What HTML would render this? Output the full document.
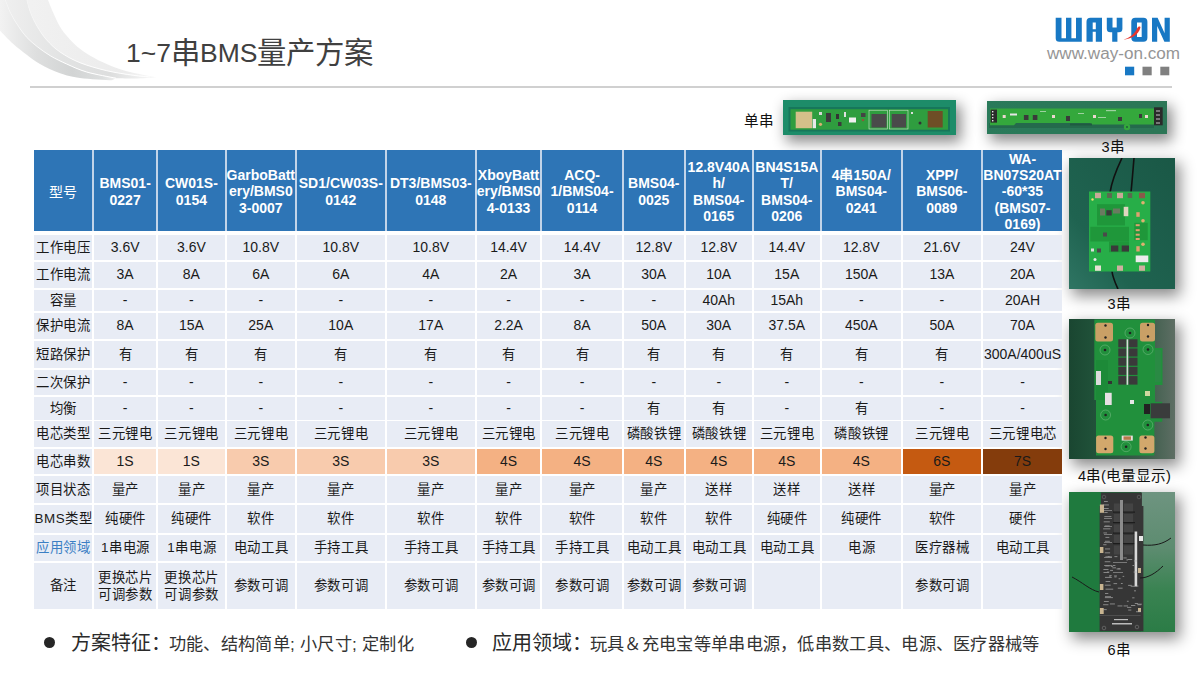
<!DOCTYPE html>
<html lang="zh-CN"><head><meta charset="utf-8">
<style>
*{margin:0;padding:0;box-sizing:border-box}
html,body{width:1200px;height:675px;overflow:hidden;background:#fff}
body{position:relative;font-family:"Liberation Sans",sans-serif;color:#000}
.c{position:absolute;display:flex;align-items:center;justify-content:center;text-align:center;overflow:visible}
.c span{display:block;white-space:nowrap}
.h{color:#fff;font-weight:bold;font-size:14px;line-height:16.3px;padding-top:2.4px}
.h0{font-weight:normal;padding-top:4px}
.b{font-size:13.4px;line-height:17.3px;color:#1a1a1a;letter-spacing:0.6px}
.b span{margin-right:-0.6px}
.lat{font-size:14px;letter-spacing:0}
.lat span{margin-right:0}
.blue{color:#3b7fc4}
.abs{position:absolute}
.title{position:absolute;left:126px;top:32.6px;font-size:26px;color:#404040;white-space:nowrap;line-height:40px}
.tl{font-size:26.5px;position:relative;top:-0.8px}
.tc{font-size:29.4px;font-weight:500}
.hr{position:absolute;left:30px;top:86px;width:1142px;height:2px;background:#d0d0d0}
.lbl{position:absolute;font-size:14.6px;color:#111;white-space:nowrap;line-height:16px}
.foot{position:absolute;top:630px;white-space:nowrap;color:#2a2a2a;line-height:26px}
.foot .big{font-size:20px}
.foot .sm{font-size:17.2px;letter-spacing:0.3px;margin-left:-2.2px;color:#333}
.ph{box-shadow:4px 6px 14px 1px rgba(0,0,0,0.46);overflow:hidden;background:#2a6a50}
.dot{position:absolute;width:11px;height:11px;border-radius:50%;background:#262626}
</style></head><body>
<svg class="abs" style="left:0;top:0" width="170" height="90" viewBox="0 0 170 90">
<defs>
<linearGradient id="b1" x1="0" y1="0" x2="120" y2="0" gradientUnits="userSpaceOnUse"><stop offset="0" stop-color="#f2f2f2"/><stop offset="0.3" stop-color="#dedfdf"/><stop offset="0.6" stop-color="#d2d4d4"/><stop offset="0.85" stop-color="#dcdede"/><stop offset="1" stop-color="#f4f4f4"/></linearGradient>
<linearGradient id="b2" x1="0" y1="0" x2="158" y2="0" gradientUnits="userSpaceOnUse"><stop offset="0" stop-color="#f0f0f0"/><stop offset="0.4" stop-color="#e2e3e3"/><stop offset="0.7" stop-color="#dddede"/><stop offset="1" stop-color="#fafafa"/></linearGradient>
<linearGradient id="b3" x1="0" y1="0" x2="158" y2="0" gradientUnits="userSpaceOnUse"><stop offset="0" stop-color="#f3f3f3"/><stop offset="0.5" stop-color="#eeeeee"/><stop offset="0.8" stop-color="#ececec"/><stop offset="1" stop-color="#fbfbfb"/></linearGradient>
<linearGradient id="wl" x1="0" y1="0" x2="0" y2="80" gradientUnits="userSpaceOnUse"><stop offset="0" stop-color="#fff" stop-opacity="0.15"/><stop offset="0.5" stop-color="#fff" stop-opacity="0.6"/><stop offset="0.8" stop-color="#fff" stop-opacity="1"/></linearGradient>
</defs>
<path d="M48.0 0.0 C48.5 1.1 49.6 4.0 50.7 6.7 C51.8 9.4 53.2 12.7 54.7 16.0 C56.2 19.3 57.8 23.1 60.0 26.7 C62.2 30.2 65.1 34.0 68.0 37.3 C70.9 40.6 73.5 43.6 77.3 46.7 C81.1 49.8 85.8 53.1 90.7 56.0 C95.6 58.9 100.7 61.5 106.7 64.0 C112.7 66.5 118.5 69.1 126.7 71.3 C134.9 73.5 151.1 76.3 156.0 77.3 L150.0 77.0 C147.2 76.7 140.5 76.3 133.3 75.3 C126.1 74.2 115.6 72.8 106.7 70.7 C97.8 68.6 87.8 65.8 80.0 62.7 C72.2 59.6 65.5 55.8 60.0 52.0 C54.5 48.2 50.5 44.2 46.7 40.0 C42.9 35.8 40.0 31.1 37.3 26.7 C34.6 22.2 32.5 17.8 30.7 13.3 C28.9 8.9 27.4 2.2 26.7 0.0 Z" fill="url(#b3)"/>
<path d="M26.7 0.0 C27.4 2.2 28.9 8.9 30.7 13.3 C32.5 17.8 34.6 22.2 37.3 26.7 C40.0 31.1 42.9 35.8 46.7 40.0 C50.5 44.2 54.5 48.2 60.0 52.0 C65.5 55.8 72.2 59.6 80.0 62.7 C87.8 65.8 97.8 68.6 106.7 70.7 C115.6 72.8 126.1 74.2 133.3 75.3 C140.5 76.3 147.2 76.7 150.0 77.0 L150.0 77.0 C151.0 77.0 155.0 77.2 156.0 77.3 L156.0 77.4 C152.5 77.6 141.7 78.3 135.0 78.4 C128.3 78.5 119.2 78.2 116.0 78.2 L116.0 78.2 C111.1 77.2 94.9 74.4 86.7 72.0 C78.5 69.6 72.7 66.7 66.7 64.0 C60.7 61.3 55.6 58.9 50.7 56.0 C45.8 53.1 41.3 49.8 37.3 46.7 C33.3 43.6 29.8 40.6 26.7 37.3 C23.6 34.0 21.4 30.7 18.7 26.7 C16.0 22.7 12.9 17.8 10.7 13.3 C8.5 8.9 6.2 2.2 5.3 0.0 Z" fill="url(#b2)"/>
<path d="M5.3 0.0 C6.2 2.2 8.5 8.9 10.7 13.3 C12.9 17.8 16.0 22.7 18.7 26.7 C21.4 30.7 23.6 34.0 26.7 37.3 C29.8 40.6 33.3 43.6 37.3 46.7 C41.3 49.8 45.8 53.1 50.7 56.0 C55.6 58.9 60.7 61.3 66.7 64.0 C72.7 66.7 78.5 69.6 86.7 72.0 C94.9 74.4 111.1 77.2 116.0 78.2 L112.0 80.3 C106.7 79.9 88.7 79.2 80.0 78.0 C71.3 76.8 66.7 75.6 60.0 73.3 C53.3 71.0 45.5 67.1 40.0 64.0 C34.5 60.9 31.1 58.0 26.7 54.7 C22.2 51.4 17.8 48.0 13.3 44.0 C8.9 40.0 2.2 32.9 0.0 30.7 L0 0 Z" fill="url(#b1)"/>
<path d="M26.7 0.0 C27.4 2.2 28.9 8.9 30.7 13.3 C32.5 17.8 34.6 22.2 37.3 26.7 C40.0 31.1 42.9 35.8 46.7 40.0 C50.5 44.2 54.5 48.2 60.0 52.0 C65.5 55.8 72.2 59.6 80.0 62.7 C87.8 65.8 97.8 68.6 106.7 70.7 C115.6 72.8 126.1 74.2 133.3 75.3 C140.5 76.3 147.2 76.7 150.0 77.0" stroke="url(#wl)" stroke-width="0.9" fill="none"/>
<path d="M5.3 0.0 C6.2 2.2 8.5 8.9 10.7 13.3 C12.9 17.8 16.0 22.7 18.7 26.7 C21.4 30.7 23.6 34.0 26.7 37.3 C29.8 40.6 33.3 43.6 37.3 46.7 C41.3 49.8 45.8 53.1 50.7 56.0 C55.6 58.9 60.7 61.3 66.7 64.0 C72.7 66.7 78.5 69.6 86.7 72.0 C94.9 74.4 111.1 77.2 116.0 78.2" stroke="url(#wl)" stroke-width="1" fill="none"/>
</svg>
<svg class="abs" style="left:1040px;top:10px" width="150" height="72" viewBox="1040 10 150 72">
<g fill="#1878c4">
<path d="M1055.7 17.7h5.8v20.6h4.5v-20.6h5.4v20.6h4.6v-20.6h5.8v24h-22.6q-3.5 0 -3.5 -3.5z"/>
<path d="M1090.5 17.7h11.5v24h-6.2v-10h-3.1v10h-6.2v-20q0 -4 4 -4zM1092.7 22.4v6.8h3.1v-6.8z" fill-rule="evenodd"/>
<path d="M1106.8 17.7h5.7v9.9h4.2v-9.9h5.7v11q0 3.6 -3.6 3.6h-1.4v9.4h-5.2v-9.4h-1.8q-3.6 0 -3.6 -3.6z"/>
<path d="M1135.3 17.7h8.1q4 0 4 4v16q0 4 -4 4h-8.1q-4 0 -4 -4v-16q0 -4 4 -4zM1137 22.4v14.6h4.7v-14.6z" fill-rule="evenodd"/>
<path d="M1152 17.7h5.6l7 15.5v-15.5h5.2v24h-5.4l-7.2 -15.8v15.8h-5.2z"/>
</g>
<path d="M1123 39.6C1129 38.6 1134.5 34.5 1137.6 27.6C1138.3 26.2 1140.8 25.8 1140.4 27.8C1138.5 34.8 1131.5 39.4 1123 39.6Z" fill="#e8362d"/>
<text x="1047" y="58.6" font-family="Liberation Sans" font-size="16" fill="#959595" textLength="133" lengthAdjust="spacingAndGlyphs">www.way-on.com</text>
<rect x="1125" y="66.7" width="9.2" height="8.6" fill="#1878c4"/>
<rect x="1142.5" y="66.7" width="9.2" height="8.6" fill="#808080"/>
<rect x="1160.3" y="66.7" width="9" height="8.6" fill="#808080"/>
</svg>
<div class="abs ph" style="left:783px;top:100px;width:173px;height:35px"><svg width="173" height="35" viewBox="783 100 173 35" style="display:block;filter:blur(0.35px)">
<rect x="783" y="100" width="173" height="35" fill="#1d8c69"/>
<rect x="788.5" y="107" width="161.5" height="24.5" fill="#17765a"/>
<rect x="790.5" y="109.2" width="157.5" height="20.5" fill="#2f9d3f"/>
<rect x="795.7" y="111.7" width="16.5" height="16.5" fill="#d4c08a"/>
<rect x="812.7" y="119" width="3.3" height="9.2" fill="#e8e8e8"/>
<rect x="819" y="112" width="3" height="3" fill="#d8d8d8"/>
<rect x="826" y="113" width="5" height="9" fill="#3b3b3b"/>
<circle cx="820.5" cy="124.3" r="1.6" fill="#d9b070"/>
<rect x="836" y="114" width="3" height="5" fill="#333"/>
<rect x="838" y="122" width="3.5" height="4" fill="#3a3a3a"/>
<rect x="844" y="112" width="2" height="5" fill="#e0e0e0"/>
<rect x="849" y="117.5" width="7" height="5" fill="#f0f0f0"/>
<rect x="861" y="113" width="4.5" height="4" fill="#444"/>
<circle cx="863" cy="120" r="1.3" fill="#8a5a3a"/>
<rect x="869" y="110.2" width="18.5" height="18.8" fill="none" stroke="#cfe6cf" stroke-width="0.6"/>
<rect x="871.5" y="114" width="15" height="13.5" fill="#4a4a4a"/>
<rect x="889.5" y="110.2" width="18.5" height="18.8" fill="none" stroke="#cfe6cf" stroke-width="0.6"/>
<rect x="891.7" y="114" width="14.3" height="13.5" fill="#4a4a4a"/>
<rect x="911" y="112" width="2" height="2" fill="#ddd"/>
<circle cx="920" cy="123" r="1.5" fill="#333"/>
<rect x="927.7" y="111" width="15" height="16.5" fill="#6e4e26"/>
</svg></div>
<div class="abs ph" style="left:987px;top:101px;width:180px;height:33px"><svg width="180" height="33" viewBox="987 101 180 33" style="display:block;filter:blur(0.35px)">
<defs><linearGradient id="g2" x1="0" y1="0" x2="1" y2="0"><stop offset="0" stop-color="#2a7a5a"/><stop offset="1" stop-color="#2c7656"/></linearGradient></defs>
<rect x="987" y="101" width="180" height="33" fill="url(#g2)"/>
<rect x="989" y="123" width="165" height="5" fill="#246a4c"/>
<path d="M990 108.5H1154V124.5H1092L1090 123H1016L1014 125.3H990Z" fill="#34a83c"/>
<circle cx="1127" cy="127" r="3.2" fill="#34a83c"/>
<circle cx="1127" cy="127" r="0.9" fill="#1a5a3a"/>
<rect x="1070" y="123.5" width="22" height="2" fill="#1f5a40"/>
<rect x="990.6" y="109.6" width="6.4" height="13" fill="#2a2a2a"/>
<g fill="#e6e6e6"><rect x="992" y="111" width="1.4" height="1.4"/><rect x="992" y="114" width="1.4" height="1.4"/><rect x="992" y="117" width="1.4" height="1.4"/><rect x="992" y="120" width="1.4" height="1.4"/></g>
<g fill="#ecd6d0"><rect x="1002.7" y="115" width="3" height="3"/><rect x="1052" y="115" width="3" height="3"/><rect x="1093" y="115" width="3" height="3"/><rect x="1145" y="115" width="3" height="3"/></g>
<rect x="1010" y="113.5" width="7" height="2" fill="#e6e6e6"/>
<g fill="#3a3a3a"><rect x="1023.9" y="115" width="4.6" height="5"/><rect x="1032.8" y="115" width="4.6" height="5"/><rect x="1066" y="116" width="4" height="5"/><rect x="1118" y="117" width="4" height="4"/><rect x="1139" y="114" width="3" height="4"/></g>
<g fill="#b8dcb8" opacity="0.8"><rect x="1106" y="110" width="10" height="1.2"/><rect x="1098" y="117" width="8" height="1"/><rect x="1040" y="111" width="6" height="1"/><rect x="1078" y="113" width="6" height="1"/></g>
<rect x="1154" y="107.3" width="8.7" height="18" fill="#2a2a2a"/>
<g fill="#777"><rect x="1156" y="110" width="4" height="2"/><rect x="1156" y="114" width="4" height="2"/><rect x="1156" y="118" width="4" height="2"/><rect x="1156" y="122" width="4" height="2"/></g>
</svg></div>
<div class="abs ph" style="left:1069px;top:157.5px;width:106px;height:131.0px"><svg width="106" height="131.0" viewBox="1069 157.5 106 131.0" style="display:block;filter:blur(0.35px)">
<defs><linearGradient id="g3" x1="0" y1="1" x2="1" y2="0"><stop offset="0" stop-color="#2f7563"/><stop offset="0.3" stop-color="#1f6350"/><stop offset="1" stop-color="#1a5846"/></linearGradient></defs>
<rect x="1069" y="157.5" width="106" height="131" fill="url(#g3)"/>
<path d="M1122 157.5C1116 170 1112 180 1110 192M1134 157.5C1133 170 1132 182 1131 192M1112 271C1113 278 1116 284 1118 288.5" stroke="#111" stroke-width="1.6" fill="none"/>
<rect x="1089" y="191" width="61.3" height="80" fill="#27ae48"/>
<rect x="1097" y="203.7" width="28" height="21.3" fill="#1f973a"/>
<rect x="1090.3" y="226.3" width="38.7" height="14.7" fill="#1f973a"/>
<rect x="1109" y="241" width="20" height="10.7" fill="#1f973a"/>
<rect x="1134.3" y="222.3" width="13.4" height="17.4" fill="#1f973a"/>
<rect x="1095" y="192.3" width="6" height="5.4" fill="#c9a898"/>
<rect x="1107" y="192.5" width="5" height="5" fill="#5a6a50"/>
<rect x="1117" y="192.3" width="6" height="5.4" fill="#c9a898"/>
<rect x="1127.7" y="192.5" width="4.5" height="5" fill="#5a6a50"/>
<rect x="1139" y="192.3" width="6" height="5.4" fill="#8a5a4a"/>
<rect x="1095" y="265" width="6" height="5.3" fill="#e8e0d4"/>
<rect x="1117" y="265" width="6" height="5.3" fill="#d0b0a0"/>
<rect x="1139" y="265" width="6" height="5.3" fill="#d0b0a0"/>
<rect x="1111" y="245" width="7.3" height="6" fill="#3a3a3a"/>
<rect x="1121.7" y="245" width="7.3" height="6" fill="#3a3a3a"/>
<rect x="1106.3" y="209.7" width="5.4" height="5.3" fill="#3a3a3a"/>
<rect x="1100" y="208" width="5" height="7" fill="#6a7a60"/>
<rect x="1113" y="208" width="7" height="5" fill="#6a7a60"/>
<rect x="1103" y="232" width="4" height="4" fill="#4a4a4a"/>
<rect x="1123.7" y="206.3" width="4.6" height="9.4" fill="#e0d6c0"/>
<rect x="1135.7" y="223.7" width="4" height="2" fill="#e0a070"/>
<rect x="1135.7" y="228.7" width="4" height="2" fill="#e0a070"/>
<rect x="1135.7" y="233.2" width="4" height="2" fill="#e0a070"/>
<rect x="1135.7" y="237.5" width="4" height="2" fill="#e0a070"/>
<rect x="1136.3" y="211.7" width="3.4" height="4.6" fill="#e0a070"/>
<rect x="1136.3" y="245.7" width="3.4" height="5.3" fill="#e0a070"/>
<circle cx="1143" cy="202.3" r="1.8" fill="#e0b070"/>
<circle cx="1143" cy="220.3" r="1.8" fill="#e0b070"/>
<circle cx="1143" cy="243.7" r="1.8" fill="#e0b070"/>
<circle cx="1092.5" cy="199" r="1.2" fill="#e8e070"/>
<circle cx="1095" cy="259" r="1.5" fill="#e8e8e8"/>
<rect x="1091" y="248" width="3" height="3" fill="#ddd"/>
<rect x="1097" y="248" width="4" height="4" fill="#4a4a4a"/>
<rect x="1135.7" y="255" width="12.6" height="6.7" fill="#ececec"/>
</svg></div>
<div class="abs ph" style="left:1069px;top:319px;width:106px;height:140px"><svg width="106" height="140" viewBox="1069 319 106 140" style="display:block;filter:blur(0.35px)">
<defs><linearGradient id="g4" x1="0" y1="0" x2="1" y2="0"><stop offset="0" stop-color="#1a4631"/><stop offset="0.2" stop-color="#1f5038"/><stop offset="0.75" stop-color="#3e5e4c"/><stop offset="1" stop-color="#5e6e64"/></linearGradient></defs>
<rect x="1069" y="319" width="106" height="140" fill="url(#g4)"/>
<path d="M1094.3 319.6H1155V348H1162.5V385H1155V401.7H1162.2V421.7H1154.4V455.6H1096V400H1094.3Z" fill="#21903c"/>
<rect x="1096" y="360" width="12" height="40" fill="#1d8a38"/>
<rect x="1095.3" y="322.8" width="17.7" height="18.7" rx="2.5" fill="#c9a066"/>
<rect x="1140" y="322.8" width="15" height="18.7" rx="2.5" fill="#c9a066"/>
<rect x="1096.1" y="435.6" width="17.2" height="17.7" rx="2.5" fill="#d2a86c"/>
<rect x="1139.4" y="435.6" width="15" height="17.7" rx="2.5" fill="#d2a86c"/>
<g fill="#222"><circle cx="1105.5" cy="325.5" r="1.2"/><circle cx="1105.5" cy="337.5" r="1.2"/><circle cx="1148" cy="325" r="1.2"/><circle cx="1148" cy="336.5" r="1.2"/>
<circle cx="1105.5" cy="438" r="1.2"/><circle cx="1105.5" cy="449" r="1.2"/><circle cx="1145.5" cy="437.5" r="1.2"/><circle cx="1145.5" cy="448.5" r="1.2"/>
<circle cx="1130" cy="333" r="1.3"/><circle cx="1105" cy="350" r="1.3"/><circle cx="1148" cy="349.5" r="1.3"/><circle cx="1105.6" cy="415" r="1.3"/><circle cx="1147.8" cy="425" r="1.3"/><circle cx="1126.1" cy="446.7" r="1.3"/></g>
<g fill="none" stroke="#7fc08a" stroke-width="0.5"><circle cx="1130" cy="333" r="5"/><circle cx="1105" cy="350" r="5"/><circle cx="1148" cy="349.5" r="5"/><circle cx="1105.6" cy="415" r="5"/><circle cx="1147.8" cy="425" r="5"/><circle cx="1126.1" cy="446.7" r="5"/></g>
<g fill="#3a3a3a">
<rect x="1118.3" y="339.3" width="8" height="8"/><rect x="1128.5" y="339.3" width="9" height="8"/>
<rect x="1118.3" y="348.5" width="8" height="8"/><rect x="1128.5" y="348.5" width="9" height="8"/>
<rect x="1118.3" y="357.7" width="8" height="8"/><rect x="1128.5" y="357.7" width="9" height="8"/>
<rect x="1118.3" y="366.9" width="8" height="8"/><rect x="1128.5" y="366.9" width="9" height="8"/>
<rect x="1118.3" y="376.1" width="8" height="8.5"/><rect x="1128.5" y="376.1" width="9" height="8.5"/>
</g>
<rect x="1126.6" y="339.3" width="1.6" height="45.5" fill="#d8d8d8"/>
<rect x="1155" y="350" width="6" height="32" fill="#2a8a44"/>
<rect x="1096" y="371" width="5" height="14" fill="#dcdcdc"/>
<rect x="1105" y="392.8" width="6.7" height="12.2" fill="#e8e0e4"/>
<rect x="1108" y="381" width="4" height="3" fill="#333"/>
<rect x="1130" y="400" width="4" height="4" fill="#e8e8e8"/>
<rect x="1145" y="391" width="5" height="5" fill="#cfd8a0"/>
<rect x="1150.6" y="403.3" width="19.4" height="15" fill="#3a3c3c"/>
<rect x="1144" y="404" width="6" height="10" fill="#222"/>
<rect x="1121.7" y="435.6" width="11.1" height="5" fill="#e6e0dc"/>
<rect x="1123.5" y="436.4" width="7.5" height="3.4" fill="#b8784a"/>
</svg></div>
<div class="abs ph" style="left:1069px;top:492px;width:106px;height:140px"><svg width="106" height="140" viewBox="1069 492 106 140" style="display:block;filter:blur(0.35px)">
<defs><linearGradient id="g5b" x1="0" y1="0" x2="0" y2="1"><stop offset="0" stop-color="#6e9480"/><stop offset="0.4" stop-color="#5d8c70"/><stop offset="0.7" stop-color="#3a8352"/><stop offset="1" stop-color="#2b7c46"/></linearGradient></defs>
<rect x="1069" y="492" width="106" height="140" fill="#1f7a3e"/>
<rect x="1141" y="492" width="34" height="140" fill="url(#g5b)"/>
<path d="M1100.9 492.6H1141.9V506H1143.4V631.2H1099.6V506H1100.9Z" fill="#363636"/>
<rect x="1099.6" y="615" width="41" height="0.8" fill="#555"/>
<path d="M1143 545C1155 546 1163 544 1171 538M1140 578C1148 578 1156 573 1163 566M1072 577C1082 582 1090 590 1099 592" stroke="#1a1a1a" stroke-width="1" fill="none"/>
<g fill="#c8b490"><rect x="1099.9" y="504.5" width="4.1" height="8.3"/><rect x="1099.9" y="547" width="3.5" height="6"/><rect x="1099.9" y="584" width="3.5" height="6"/><rect x="1099.9" y="608" width="3.8" height="6"/><rect x="1138" y="568" width="3" height="5"/><rect x="1138" y="608" width="3" height="4"/></g>
<g fill="#444"><rect x="1113.9" y="503.5" width="6" height="9"/><rect x="1124" y="503.5" width="9" height="9"/><rect x="1113.9" y="514" width="6" height="9"/><rect x="1124" y="514" width="9" height="9"/><rect x="1113.9" y="524.5" width="6" height="9"/><rect x="1124" y="524.5" width="9" height="9"/><rect x="1113.9" y="535" width="6" height="9"/><rect x="1124" y="535" width="9" height="9"/><rect x="1113.9" y="545.5" width="6" height="9"/><rect x="1124" y="545.5" width="9" height="9"/></g>
<g fill="#1c1c1c"><rect x="1113" y="511.5" width="22" height="1.2"/><rect x="1113" y="522" width="22" height="1.2"/><rect x="1113" y="532.5" width="22" height="1.2"/><rect x="1113" y="543" width="22" height="1.2"/></g>
<rect x="1120" y="500" width="3" height="60" fill="#8c8c8c"/>
<rect x="1134.6" y="531.5" width="2.6" height="55" fill="#d8d8d8"/>
<rect x="1139" y="536" width="4" height="5" fill="#e8e8e8"/>
<g fill="#8a8a8a" opacity="0.8"><rect x="1104" y="510" width="8" height="1"/><rect x="1104" y="518" width="8" height="1"/><rect x="1104" y="526" width="8" height="1"/><rect x="1104" y="534" width="8" height="1"/><rect x="1104" y="542" width="8" height="1"/><rect x="1104" y="557" width="8" height="1"/><rect x="1104" y="565" width="8" height="1"/><rect x="1113" y="562" width="14" height="1"/><rect x="1113" y="572" width="10" height="1"/><rect x="1105" y="596" width="6" height="1"/></g>
<g fill="#b0b0b0" opacity="0.75"><rect x="1104.0" y="501.0" width="3.8" height="0.9"/><rect x="1103.2" y="504.5" width="5.7" height="0.9"/><rect x="1103.2" y="508.1" width="5.5" height="0.9"/><rect x="1104.3" y="512.1" width="3.3" height="0.9"/><rect x="1104.3" y="516.2" width="7.1" height="0.9"/><rect x="1103.7" y="521.4" width="6.1" height="0.9"/><rect x="1104.7" y="525.5" width="5.0" height="0.9"/><rect x="1103.1" y="528.4" width="7.3" height="0.9"/><rect x="1103.4" y="532.5" width="3.6" height="0.9"/><rect x="1105.4" y="536.9" width="3.9" height="0.9"/><rect x="1104.9" y="540.8" width="4.9" height="0.9"/><rect x="1103.2" y="544.3" width="3.3" height="0.9"/><rect x="1105.0" y="548.5" width="5.1" height="0.9"/><rect x="1104.8" y="552.4" width="5.3" height="0.9"/><rect x="1105.4" y="556.4" width="6.5" height="0.9"/><rect x="1104.7" y="561.3" width="5.6" height="0.9"/><rect x="1105.2" y="565.5" width="4.4" height="0.9"/><rect x="1103.4" y="569.1" width="5.1" height="0.9"/><rect x="1103.5" y="572.1" width="5.4" height="0.9"/><rect x="1105.0" y="576.9" width="6.8" height="0.9"/><rect x="1105.6" y="581.0" width="4.6" height="0.9"/><rect x="1104.8" y="584.7" width="5.9" height="0.9"/><rect x="1105.5" y="588.7" width="7.7" height="0.9"/><rect x="1105.0" y="593.1" width="3.3" height="0.9"/><rect x="1104.9" y="597.2" width="8.0" height="0.9"/><rect x="1103.9" y="601.0" width="4.9" height="0.9"/><rect x="1103.1" y="604.3" width="5.3" height="0.9"/><rect x="1103.4" y="609.2" width="3.3" height="0.9"/><rect x="1110.1" y="569.9" width="2.9" height="0.9"/><rect x="1133.9" y="560.5" width="3.1" height="0.9"/><rect x="1123.6" y="605.5" width="4.4" height="0.9"/><rect x="1133.6" y="571.6" width="3.0" height="0.9"/><rect x="1117.5" y="605.5" width="4.9" height="0.9"/><rect x="1110.8" y="565.9" width="2.3" height="0.9"/><rect x="1113.5" y="583.2" width="3.6" height="0.9"/><rect x="1114.4" y="556.2" width="3.0" height="0.9"/><rect x="1117.8" y="587.7" width="4.8" height="0.9"/><rect x="1128.1" y="584.9" width="3.7" height="0.9"/><rect x="1127.6" y="559.0" width="4.6" height="0.9"/><rect x="1131.0" y="605.0" width="4.3" height="0.9"/><rect x="1118.6" y="578.3" width="1.9" height="0.9"/><rect x="1126.3" y="559.5" width="1.7" height="0.9"/><rect x="1112.7" y="565.1" width="2.7" height="0.9"/><rect x="1107.7" y="556.0" width="2.0" height="0.9"/><rect x="1109.2" y="576.4" width="1.6" height="0.9"/><rect x="1134.0" y="590.4" width="2.0" height="0.9"/><rect x="1114.1" y="575.5" width="2.8" height="0.9"/><rect x="1109.9" y="603.5" width="5.0" height="0.9"/><rect x="1120.9" y="583.1" width="1.8" height="0.9"/><rect x="1109.3" y="575.2" width="2.4" height="0.9"/><rect x="1132.5" y="565.0" width="1.6" height="0.9"/><rect x="1136.4" y="585.6" width="2.0" height="0.9"/><rect x="1123.4" y="557.5" width="3.3" height="0.9"/><rect x="1137.3" y="604.3" width="3.9" height="0.9"/><rect x="1114.4" y="576.5" width="2.1" height="0.9"/><rect x="1130.7" y="585.8" width="4.2" height="0.9"/><rect x="1116.5" y="568.5" width="4.3" height="0.9"/><rect x="1137.5" y="603.7" width="4.3" height="0.9"/><rect x="1132.2" y="597.4" width="2.3" height="0.9"/><rect x="1122.6" y="575.9" width="1.6" height="0.9"/><rect x="1106.9" y="571.6" width="2.4" height="0.9"/><rect x="1128.2" y="609.6" width="3.1" height="0.9"/><rect x="1136.0" y="611.3" width="4.8" height="0.9"/><rect x="1117.7" y="568.3" width="2.3" height="0.9"/><rect x="1112.3" y="567.4" width="3.7" height="0.9"/><rect x="1134.8" y="603.1" width="3.2" height="0.9"/><rect x="1126.9" y="600.8" width="1.8" height="0.9"/><rect x="1127.1" y="606.9" width="4.2" height="0.9"/></g>
<g fill="#bbb"><rect x="1112" y="623" width="20" height="1.5"/><rect x="1114" y="619" width="14" height="1.2"/></g>
<circle cx="1104" cy="628" r="1.8" fill="none" stroke="#888" stroke-width="0.5"/>
<circle cx="1137" cy="627" r="1.8" fill="none" stroke="#888" stroke-width="0.5"/>
<circle cx="1104" cy="497" r="1.8" fill="none" stroke="#777" stroke-width="0.5"/>
<circle cx="1139" cy="497" r="1.8" fill="none" stroke="#777" stroke-width="0.5"/>
</svg></div>
<div class="title"><span class="tl">1~7</span><span class="tc">串</span><span class="tl">BMS</span><span class="tc">量产方案</span></div>
<div class="hr"></div>
<div class="abs" style="left:34px;top:150px;width:1028px;height:80.8px;background:#c2d4e9"></div>
<div class="c h h0" style="left:34.0px;top:150.0px;width:58.3px;height:80.8px;background:#2e75b6"><span>型号</span></div><div class="c b" style="left:34.0px;top:235.0px;width:58.3px;height:24.9px;background:#e8ecf5"><span>工作电压</span></div><div class="c b" style="left:34.0px;top:261.6px;width:58.3px;height:26.4px;background:#e8ecf5"><span>工作电流</span></div><div class="c b" style="left:34.0px;top:289.6px;width:58.3px;height:21.4px;background:#e8ecf5"><span>容量</span></div><div class="c b" style="left:34.0px;top:312.8px;width:58.3px;height:26.3px;background:#e8ecf5"><span>保护电流</span></div><div class="c b" style="left:34.0px;top:340.8px;width:58.3px;height:27.2px;background:#e8ecf5"><span>短路保护</span></div><div class="c b" style="left:34.0px;top:369.6px;width:58.3px;height:25.7px;background:#e8ecf5"><span>二次保护</span></div><div class="c b" style="left:34.0px;top:397.1px;width:58.3px;height:22.5px;background:#e8ecf5"><span>均衡</span></div><div class="c b" style="left:34.0px;top:421.2px;width:58.3px;height:25.8px;background:#e8ecf5"><span>电芯类型</span></div><div class="c b" style="left:34.0px;top:448.8px;width:58.3px;height:25.4px;background:#e8ecf5"><span>电芯串数</span></div><div class="c b" style="left:34.0px;top:475.9px;width:58.3px;height:27.2px;background:#e8ecf5"><span>项目状态</span></div><div class="c b" style="left:34.0px;top:504.8px;width:58.3px;height:28.7px;background:#e8ecf5"><span>BMS类型</span></div><div class="c b blue" style="left:34.0px;top:535.1px;width:58.3px;height:26.1px;background:#e8ecf5"><span>应用领域</span></div><div class="c b" style="left:34.0px;top:563.0px;width:58.3px;height:46.0px;background:#e8ecf5"><span>备注</span></div><div class="c h" style="left:94.3px;top:150.0px;width:61.7px;height:80.8px;background:#2e75b6"><span>BMS01-<br>0227</span></div><div class="c b lat" style="left:94.3px;top:235.0px;width:61.7px;height:24.9px;background:#e8ecf5"><span>3.6V</span></div><div class="c b lat" style="left:94.3px;top:261.6px;width:61.7px;height:26.4px;background:#e8ecf5"><span>3A</span></div><div class="c b lat" style="left:94.3px;top:289.6px;width:61.7px;height:21.4px;background:#e8ecf5"><span>-</span></div><div class="c b lat" style="left:94.3px;top:312.8px;width:61.7px;height:26.3px;background:#e8ecf5"><span>8A</span></div><div class="c b" style="left:94.3px;top:340.8px;width:61.7px;height:27.2px;background:#e8ecf5"><span>有</span></div><div class="c b lat" style="left:94.3px;top:369.6px;width:61.7px;height:25.7px;background:#e8ecf5"><span>-</span></div><div class="c b lat" style="left:94.3px;top:397.1px;width:61.7px;height:22.5px;background:#e8ecf5"><span>-</span></div><div class="c b" style="left:94.3px;top:421.2px;width:61.7px;height:25.8px;background:#e8ecf5"><span>三元锂电</span></div><div class="c b lat" style="left:94.3px;top:448.8px;width:61.7px;height:25.4px;background:#fbe5d6"><span>1S</span></div><div class="c b" style="left:94.3px;top:475.9px;width:61.7px;height:27.2px;background:#e8ecf5"><span>量产</span></div><div class="c b" style="left:94.3px;top:504.8px;width:61.7px;height:28.7px;background:#e8ecf5"><span>纯硬件</span></div><div class="c b" style="left:94.3px;top:535.1px;width:61.7px;height:26.1px;background:#e8ecf5"><span>1串电源</span></div><div class="c b" style="left:94.3px;top:563.0px;width:61.7px;height:46.0px;background:#e8ecf5"><span>更换芯片<br>可调参数</span></div><div class="c h" style="left:158.0px;top:150.0px;width:66.8px;height:80.8px;background:#2e75b6"><span>CW01S-<br>0154</span></div><div class="c b lat" style="left:158.0px;top:235.0px;width:66.8px;height:24.9px;background:#e8ecf5"><span>3.6V</span></div><div class="c b lat" style="left:158.0px;top:261.6px;width:66.8px;height:26.4px;background:#e8ecf5"><span>8A</span></div><div class="c b lat" style="left:158.0px;top:289.6px;width:66.8px;height:21.4px;background:#e8ecf5"><span>-</span></div><div class="c b lat" style="left:158.0px;top:312.8px;width:66.8px;height:26.3px;background:#e8ecf5"><span>15A</span></div><div class="c b" style="left:158.0px;top:340.8px;width:66.8px;height:27.2px;background:#e8ecf5"><span>有</span></div><div class="c b lat" style="left:158.0px;top:369.6px;width:66.8px;height:25.7px;background:#e8ecf5"><span>-</span></div><div class="c b lat" style="left:158.0px;top:397.1px;width:66.8px;height:22.5px;background:#e8ecf5"><span>-</span></div><div class="c b" style="left:158.0px;top:421.2px;width:66.8px;height:25.8px;background:#e8ecf5"><span>三元锂电</span></div><div class="c b lat" style="left:158.0px;top:448.8px;width:66.8px;height:25.4px;background:#fbe5d6"><span>1S</span></div><div class="c b" style="left:158.0px;top:475.9px;width:66.8px;height:27.2px;background:#e8ecf5"><span>量产</span></div><div class="c b" style="left:158.0px;top:504.8px;width:66.8px;height:28.7px;background:#e8ecf5"><span>纯硬件</span></div><div class="c b" style="left:158.0px;top:535.1px;width:66.8px;height:26.1px;background:#e8ecf5"><span>1串电源</span></div><div class="c b" style="left:158.0px;top:563.0px;width:66.8px;height:46.0px;background:#e8ecf5"><span>更换芯片<br>可调参数</span></div><div class="c h" style="left:226.8px;top:150.0px;width:68.0px;height:80.8px;background:#2e75b6"><span>GarboBatt<br>ery/BMS0<br>3-0007</span></div><div class="c b lat" style="left:226.8px;top:235.0px;width:68.0px;height:24.9px;background:#e8ecf5"><span>10.8V</span></div><div class="c b lat" style="left:226.8px;top:261.6px;width:68.0px;height:26.4px;background:#e8ecf5"><span>6A</span></div><div class="c b lat" style="left:226.8px;top:289.6px;width:68.0px;height:21.4px;background:#e8ecf5"><span>-</span></div><div class="c b lat" style="left:226.8px;top:312.8px;width:68.0px;height:26.3px;background:#e8ecf5"><span>25A</span></div><div class="c b" style="left:226.8px;top:340.8px;width:68.0px;height:27.2px;background:#e8ecf5"><span>有</span></div><div class="c b lat" style="left:226.8px;top:369.6px;width:68.0px;height:25.7px;background:#e8ecf5"><span>-</span></div><div class="c b lat" style="left:226.8px;top:397.1px;width:68.0px;height:22.5px;background:#e8ecf5"><span>-</span></div><div class="c b" style="left:226.8px;top:421.2px;width:68.0px;height:25.8px;background:#e8ecf5"><span>三元锂电</span></div><div class="c b lat" style="left:226.8px;top:448.8px;width:68.0px;height:25.4px;background:#f8cbad"><span>3S</span></div><div class="c b" style="left:226.8px;top:475.9px;width:68.0px;height:27.2px;background:#e8ecf5"><span>量产</span></div><div class="c b" style="left:226.8px;top:504.8px;width:68.0px;height:28.7px;background:#e8ecf5"><span>软件</span></div><div class="c b" style="left:226.8px;top:535.1px;width:68.0px;height:26.1px;background:#e8ecf5"><span>电动工具</span></div><div class="c b" style="left:226.8px;top:563.0px;width:68.0px;height:46.0px;background:#e8ecf5"><span>参数可调</span></div><div class="c h" style="left:296.8px;top:150.0px;width:88.0px;height:80.8px;background:#2e75b6"><span>SD1/CW03S-<br>0142</span></div><div class="c b lat" style="left:296.8px;top:235.0px;width:88.0px;height:24.9px;background:#e8ecf5"><span>10.8V</span></div><div class="c b lat" style="left:296.8px;top:261.6px;width:88.0px;height:26.4px;background:#e8ecf5"><span>6A</span></div><div class="c b lat" style="left:296.8px;top:289.6px;width:88.0px;height:21.4px;background:#e8ecf5"><span>-</span></div><div class="c b lat" style="left:296.8px;top:312.8px;width:88.0px;height:26.3px;background:#e8ecf5"><span>10A</span></div><div class="c b" style="left:296.8px;top:340.8px;width:88.0px;height:27.2px;background:#e8ecf5"><span>有</span></div><div class="c b lat" style="left:296.8px;top:369.6px;width:88.0px;height:25.7px;background:#e8ecf5"><span>-</span></div><div class="c b lat" style="left:296.8px;top:397.1px;width:88.0px;height:22.5px;background:#e8ecf5"><span>-</span></div><div class="c b" style="left:296.8px;top:421.2px;width:88.0px;height:25.8px;background:#e8ecf5"><span>三元锂电</span></div><div class="c b lat" style="left:296.8px;top:448.8px;width:88.0px;height:25.4px;background:#f8cbad"><span>3S</span></div><div class="c b" style="left:296.8px;top:475.9px;width:88.0px;height:27.2px;background:#e8ecf5"><span>量产</span></div><div class="c b" style="left:296.8px;top:504.8px;width:88.0px;height:28.7px;background:#e8ecf5"><span>软件</span></div><div class="c b" style="left:296.8px;top:535.1px;width:88.0px;height:26.1px;background:#e8ecf5"><span>手持工具</span></div><div class="c b" style="left:296.8px;top:563.0px;width:88.0px;height:46.0px;background:#e8ecf5"><span>参数可调</span></div><div class="c h" style="left:386.8px;top:150.0px;width:88.0px;height:80.8px;background:#2e75b6"><span>DT3/BMS03-<br>0148</span></div><div class="c b lat" style="left:386.8px;top:235.0px;width:88.0px;height:24.9px;background:#e8ecf5"><span>10.8V</span></div><div class="c b lat" style="left:386.8px;top:261.6px;width:88.0px;height:26.4px;background:#e8ecf5"><span>4A</span></div><div class="c b lat" style="left:386.8px;top:289.6px;width:88.0px;height:21.4px;background:#e8ecf5"><span>-</span></div><div class="c b lat" style="left:386.8px;top:312.8px;width:88.0px;height:26.3px;background:#e8ecf5"><span>17A</span></div><div class="c b" style="left:386.8px;top:340.8px;width:88.0px;height:27.2px;background:#e8ecf5"><span>有</span></div><div class="c b lat" style="left:386.8px;top:369.6px;width:88.0px;height:25.7px;background:#e8ecf5"><span>-</span></div><div class="c b lat" style="left:386.8px;top:397.1px;width:88.0px;height:22.5px;background:#e8ecf5"><span>-</span></div><div class="c b" style="left:386.8px;top:421.2px;width:88.0px;height:25.8px;background:#e8ecf5"><span>三元锂电</span></div><div class="c b lat" style="left:386.8px;top:448.8px;width:88.0px;height:25.4px;background:#f8cbad"><span>3S</span></div><div class="c b" style="left:386.8px;top:475.9px;width:88.0px;height:27.2px;background:#e8ecf5"><span>量产</span></div><div class="c b" style="left:386.8px;top:504.8px;width:88.0px;height:28.7px;background:#e8ecf5"><span>软件</span></div><div class="c b" style="left:386.8px;top:535.1px;width:88.0px;height:26.1px;background:#e8ecf5"><span>手持工具</span></div><div class="c b" style="left:386.8px;top:563.0px;width:88.0px;height:46.0px;background:#e8ecf5"><span>参数可调</span></div><div class="c h" style="left:476.8px;top:150.0px;width:63.5px;height:80.8px;background:#2e75b6"><span>XboyBatt<br>ery/BMS0<br>4-0133</span></div><div class="c b lat" style="left:476.8px;top:235.0px;width:63.5px;height:24.9px;background:#e8ecf5"><span>14.4V</span></div><div class="c b lat" style="left:476.8px;top:261.6px;width:63.5px;height:26.4px;background:#e8ecf5"><span>2A</span></div><div class="c b lat" style="left:476.8px;top:289.6px;width:63.5px;height:21.4px;background:#e8ecf5"><span>-</span></div><div class="c b lat" style="left:476.8px;top:312.8px;width:63.5px;height:26.3px;background:#e8ecf5"><span>2.2A</span></div><div class="c b" style="left:476.8px;top:340.8px;width:63.5px;height:27.2px;background:#e8ecf5"><span>有</span></div><div class="c b lat" style="left:476.8px;top:369.6px;width:63.5px;height:25.7px;background:#e8ecf5"><span>-</span></div><div class="c b lat" style="left:476.8px;top:397.1px;width:63.5px;height:22.5px;background:#e8ecf5"><span>-</span></div><div class="c b" style="left:476.8px;top:421.2px;width:63.5px;height:25.8px;background:#e8ecf5"><span>三元锂电</span></div><div class="c b lat" style="left:476.8px;top:448.8px;width:63.5px;height:25.4px;background:#f4b183"><span>4S</span></div><div class="c b" style="left:476.8px;top:475.9px;width:63.5px;height:27.2px;background:#e8ecf5"><span>量产</span></div><div class="c b" style="left:476.8px;top:504.8px;width:63.5px;height:28.7px;background:#e8ecf5"><span>软件</span></div><div class="c b" style="left:476.8px;top:535.1px;width:63.5px;height:26.1px;background:#e8ecf5"><span>手持工具</span></div><div class="c b" style="left:476.8px;top:563.0px;width:63.5px;height:46.0px;background:#e8ecf5"><span>参数可调</span></div><div class="c h" style="left:542.3px;top:150.0px;width:79.5px;height:80.8px;background:#2e75b6"><span>ACQ-<br>1/BMS04-<br>0114</span></div><div class="c b lat" style="left:542.3px;top:235.0px;width:79.5px;height:24.9px;background:#e8ecf5"><span>14.4V</span></div><div class="c b lat" style="left:542.3px;top:261.6px;width:79.5px;height:26.4px;background:#e8ecf5"><span>3A</span></div><div class="c b lat" style="left:542.3px;top:289.6px;width:79.5px;height:21.4px;background:#e8ecf5"><span>-</span></div><div class="c b lat" style="left:542.3px;top:312.8px;width:79.5px;height:26.3px;background:#e8ecf5"><span>8A</span></div><div class="c b" style="left:542.3px;top:340.8px;width:79.5px;height:27.2px;background:#e8ecf5"><span>有</span></div><div class="c b lat" style="left:542.3px;top:369.6px;width:79.5px;height:25.7px;background:#e8ecf5"><span>-</span></div><div class="c b lat" style="left:542.3px;top:397.1px;width:79.5px;height:22.5px;background:#e8ecf5"><span>-</span></div><div class="c b" style="left:542.3px;top:421.2px;width:79.5px;height:25.8px;background:#e8ecf5"><span>三元锂电</span></div><div class="c b lat" style="left:542.3px;top:448.8px;width:79.5px;height:25.4px;background:#f4b183"><span>4S</span></div><div class="c b" style="left:542.3px;top:475.9px;width:79.5px;height:27.2px;background:#e8ecf5"><span>量产</span></div><div class="c b" style="left:542.3px;top:504.8px;width:79.5px;height:28.7px;background:#e8ecf5"><span>软件</span></div><div class="c b" style="left:542.3px;top:535.1px;width:79.5px;height:26.1px;background:#e8ecf5"><span>手持工具</span></div><div class="c b" style="left:542.3px;top:563.0px;width:79.5px;height:46.0px;background:#e8ecf5"><span>参数可调</span></div><div class="c h" style="left:623.8px;top:150.0px;width:59.9px;height:80.8px;background:#2e75b6"><span>BMS04-<br>0025</span></div><div class="c b lat" style="left:623.8px;top:235.0px;width:59.9px;height:24.9px;background:#e8ecf5"><span>12.8V</span></div><div class="c b lat" style="left:623.8px;top:261.6px;width:59.9px;height:26.4px;background:#e8ecf5"><span>30A</span></div><div class="c b lat" style="left:623.8px;top:289.6px;width:59.9px;height:21.4px;background:#e8ecf5"><span>-</span></div><div class="c b lat" style="left:623.8px;top:312.8px;width:59.9px;height:26.3px;background:#e8ecf5"><span>50A</span></div><div class="c b" style="left:623.8px;top:340.8px;width:59.9px;height:27.2px;background:#e8ecf5"><span>有</span></div><div class="c b lat" style="left:623.8px;top:369.6px;width:59.9px;height:25.7px;background:#e8ecf5"><span>-</span></div><div class="c b" style="left:623.8px;top:397.1px;width:59.9px;height:22.5px;background:#e8ecf5"><span>有</span></div><div class="c b" style="left:623.8px;top:421.2px;width:59.9px;height:25.8px;background:#e8ecf5"><span>磷酸铁锂</span></div><div class="c b lat" style="left:623.8px;top:448.8px;width:59.9px;height:25.4px;background:#f4b183"><span>4S</span></div><div class="c b" style="left:623.8px;top:475.9px;width:59.9px;height:27.2px;background:#e8ecf5"><span>量产</span></div><div class="c b" style="left:623.8px;top:504.8px;width:59.9px;height:28.7px;background:#e8ecf5"><span>软件</span></div><div class="c b" style="left:623.8px;top:535.1px;width:59.9px;height:26.1px;background:#e8ecf5"><span>电动工具</span></div><div class="c b" style="left:623.8px;top:563.0px;width:59.9px;height:46.0px;background:#e8ecf5"><span>参数可调</span></div><div class="c h" style="left:685.7px;top:150.0px;width:66.1px;height:80.8px;background:#2e75b6"><span>12.8V40A<br>h/<br>BMS04-<br>0165</span></div><div class="c b lat" style="left:685.7px;top:235.0px;width:66.1px;height:24.9px;background:#e8ecf5"><span>12.8V</span></div><div class="c b lat" style="left:685.7px;top:261.6px;width:66.1px;height:26.4px;background:#e8ecf5"><span>10A</span></div><div class="c b lat" style="left:685.7px;top:289.6px;width:66.1px;height:21.4px;background:#e8ecf5"><span>40Ah</span></div><div class="c b lat" style="left:685.7px;top:312.8px;width:66.1px;height:26.3px;background:#e8ecf5"><span>30A</span></div><div class="c b" style="left:685.7px;top:340.8px;width:66.1px;height:27.2px;background:#e8ecf5"><span>有</span></div><div class="c b lat" style="left:685.7px;top:369.6px;width:66.1px;height:25.7px;background:#e8ecf5"><span>-</span></div><div class="c b" style="left:685.7px;top:397.1px;width:66.1px;height:22.5px;background:#e8ecf5"><span>有</span></div><div class="c b" style="left:685.7px;top:421.2px;width:66.1px;height:25.8px;background:#e8ecf5"><span>磷酸铁锂</span></div><div class="c b lat" style="left:685.7px;top:448.8px;width:66.1px;height:25.4px;background:#f4b183"><span>4S</span></div><div class="c b" style="left:685.7px;top:475.9px;width:66.1px;height:27.2px;background:#e8ecf5"><span>送样</span></div><div class="c b" style="left:685.7px;top:504.8px;width:66.1px;height:28.7px;background:#e8ecf5"><span>软件</span></div><div class="c b" style="left:685.7px;top:535.1px;width:66.1px;height:26.1px;background:#e8ecf5"><span>电动工具</span></div><div class="c b" style="left:685.7px;top:563.0px;width:66.1px;height:46.0px;background:#e8ecf5"><span>参数可调</span></div><div class="c h" style="left:753.8px;top:150.0px;width:66.0px;height:80.8px;background:#2e75b6"><span>BN4S15A<br>T/<br>BMS04-<br>0206</span></div><div class="c b lat" style="left:753.8px;top:235.0px;width:66.0px;height:24.9px;background:#e8ecf5"><span>14.4V</span></div><div class="c b lat" style="left:753.8px;top:261.6px;width:66.0px;height:26.4px;background:#e8ecf5"><span>15A</span></div><div class="c b lat" style="left:753.8px;top:289.6px;width:66.0px;height:21.4px;background:#e8ecf5"><span>15Ah</span></div><div class="c b lat" style="left:753.8px;top:312.8px;width:66.0px;height:26.3px;background:#e8ecf5"><span>37.5A</span></div><div class="c b" style="left:753.8px;top:340.8px;width:66.0px;height:27.2px;background:#e8ecf5"><span>有</span></div><div class="c b lat" style="left:753.8px;top:369.6px;width:66.0px;height:25.7px;background:#e8ecf5"><span>-</span></div><div class="c b lat" style="left:753.8px;top:397.1px;width:66.0px;height:22.5px;background:#e8ecf5"><span>-</span></div><div class="c b" style="left:753.8px;top:421.2px;width:66.0px;height:25.8px;background:#e8ecf5"><span>三元锂电</span></div><div class="c b lat" style="left:753.8px;top:448.8px;width:66.0px;height:25.4px;background:#f4b183"><span>4S</span></div><div class="c b" style="left:753.8px;top:475.9px;width:66.0px;height:27.2px;background:#e8ecf5"><span>送样</span></div><div class="c b" style="left:753.8px;top:504.8px;width:66.0px;height:28.7px;background:#e8ecf5"><span>纯硬件</span></div><div class="c b" style="left:753.8px;top:535.1px;width:66.0px;height:26.1px;background:#e8ecf5"><span>电动工具</span></div><div class="c b lat" style="left:753.8px;top:563.0px;width:66.0px;height:46.0px;background:#e8ecf5"><span></span></div><div class="c h" style="left:821.8px;top:150.0px;width:78.9px;height:80.8px;background:#2e75b6"><span>4串150A/<br>BMS04-<br>0241</span></div><div class="c b lat" style="left:821.8px;top:235.0px;width:78.9px;height:24.9px;background:#e8ecf5"><span>12.8V</span></div><div class="c b lat" style="left:821.8px;top:261.6px;width:78.9px;height:26.4px;background:#e8ecf5"><span>150A</span></div><div class="c b lat" style="left:821.8px;top:289.6px;width:78.9px;height:21.4px;background:#e8ecf5"><span>-</span></div><div class="c b lat" style="left:821.8px;top:312.8px;width:78.9px;height:26.3px;background:#e8ecf5"><span>450A</span></div><div class="c b" style="left:821.8px;top:340.8px;width:78.9px;height:27.2px;background:#e8ecf5"><span>有</span></div><div class="c b lat" style="left:821.8px;top:369.6px;width:78.9px;height:25.7px;background:#e8ecf5"><span>-</span></div><div class="c b" style="left:821.8px;top:397.1px;width:78.9px;height:22.5px;background:#e8ecf5"><span>有</span></div><div class="c b" style="left:821.8px;top:421.2px;width:78.9px;height:25.8px;background:#e8ecf5"><span>磷酸铁锂</span></div><div class="c b lat" style="left:821.8px;top:448.8px;width:78.9px;height:25.4px;background:#f4b183"><span>4S</span></div><div class="c b" style="left:821.8px;top:475.9px;width:78.9px;height:27.2px;background:#e8ecf5"><span>送样</span></div><div class="c b" style="left:821.8px;top:504.8px;width:78.9px;height:28.7px;background:#e8ecf5"><span>纯硬件</span></div><div class="c b" style="left:821.8px;top:535.1px;width:78.9px;height:26.1px;background:#e8ecf5"><span>电源</span></div><div class="c b lat" style="left:821.8px;top:563.0px;width:78.9px;height:46.0px;background:#e8ecf5"><span></span></div><div class="c h" style="left:902.7px;top:150.0px;width:78.3px;height:80.8px;background:#2e75b6"><span>XPP/<br>BMS06-<br>0089</span></div><div class="c b lat" style="left:902.7px;top:235.0px;width:78.3px;height:24.9px;background:#e8ecf5"><span>21.6V</span></div><div class="c b lat" style="left:902.7px;top:261.6px;width:78.3px;height:26.4px;background:#e8ecf5"><span>13A</span></div><div class="c b lat" style="left:902.7px;top:289.6px;width:78.3px;height:21.4px;background:#e8ecf5"><span>-</span></div><div class="c b lat" style="left:902.7px;top:312.8px;width:78.3px;height:26.3px;background:#e8ecf5"><span>50A</span></div><div class="c b" style="left:902.7px;top:340.8px;width:78.3px;height:27.2px;background:#e8ecf5"><span>有</span></div><div class="c b lat" style="left:902.7px;top:369.6px;width:78.3px;height:25.7px;background:#e8ecf5"><span>-</span></div><div class="c b lat" style="left:902.7px;top:397.1px;width:78.3px;height:22.5px;background:#e8ecf5"><span>-</span></div><div class="c b" style="left:902.7px;top:421.2px;width:78.3px;height:25.8px;background:#e8ecf5"><span>三元锂电</span></div><div class="c b lat" style="left:902.7px;top:448.8px;width:78.3px;height:25.4px;background:#c55a11"><span>6S</span></div><div class="c b" style="left:902.7px;top:475.9px;width:78.3px;height:27.2px;background:#e8ecf5"><span>量产</span></div><div class="c b" style="left:902.7px;top:504.8px;width:78.3px;height:28.7px;background:#e8ecf5"><span>软件</span></div><div class="c b" style="left:902.7px;top:535.1px;width:78.3px;height:26.1px;background:#e8ecf5"><span>医疗器械</span></div><div class="c b" style="left:902.7px;top:563.0px;width:78.3px;height:46.0px;background:#e8ecf5"><span>参数可调</span></div><div class="c h" style="left:983.0px;top:150.0px;width:79.0px;height:80.8px;background:#2e75b6"><span>WA-<br>BN07S20AT<br>-60*35<br>(BMS07-<br>0169)</span></div><div class="c b lat" style="left:983.0px;top:235.0px;width:79.0px;height:24.9px;background:#e8ecf5"><span>24V</span></div><div class="c b lat" style="left:983.0px;top:261.6px;width:79.0px;height:26.4px;background:#e8ecf5"><span>20A</span></div><div class="c b lat" style="left:983.0px;top:289.6px;width:79.0px;height:21.4px;background:#e8ecf5"><span>20AH</span></div><div class="c b lat" style="left:983.0px;top:312.8px;width:79.0px;height:26.3px;background:#e8ecf5"><span>70A</span></div><div class="c b lat" style="left:983.0px;top:340.8px;width:79.0px;height:27.2px;background:#e8ecf5"><span>300A/400uS</span></div><div class="c b lat" style="left:983.0px;top:369.6px;width:79.0px;height:25.7px;background:#e8ecf5"><span>-</span></div><div class="c b lat" style="left:983.0px;top:397.1px;width:79.0px;height:22.5px;background:#e8ecf5"><span>-</span></div><div class="c b" style="left:983.0px;top:421.2px;width:79.0px;height:25.8px;background:#e8ecf5"><span>三元锂电芯</span></div><div class="c b lat" style="left:983.0px;top:448.8px;width:79.0px;height:25.4px;background:#843c0c"><span>7S</span></div><div class="c b" style="left:983.0px;top:475.9px;width:79.0px;height:27.2px;background:#e8ecf5"><span>量产</span></div><div class="c b" style="left:983.0px;top:504.8px;width:79.0px;height:28.7px;background:#e8ecf5"><span>硬件</span></div><div class="c b" style="left:983.0px;top:535.1px;width:79.0px;height:26.1px;background:#e8ecf5"><span>电动工具</span></div><div class="c b lat" style="left:983.0px;top:563.0px;width:79.0px;height:46.0px;background:#e8ecf5"><span></span></div>
<div class="dot" style="left:44px;top:636.8px"></div>
<div class="foot" style="left:71px"><span class="big">方案特征：</span><span class="sm">功能、结构简单; 小尺寸; 定制化</span></div>
<div class="dot" style="left:465.7px;top:636.8px"></div>
<div class="foot" style="left:492px"><span class="big">应用领域：</span><span class="sm">玩具＆充电宝等单串电源，低串数工具、电源、医疗器械等</span></div>
<div class="lbl" style="left:743.5px;top:112.5px">单串</div>
<div class="lbl" style="left:1101.5px;top:138.5px">3串</div>
<div class="lbl" style="left:1107.5px;top:295.5px">3串</div>
<div class="lbl" style="left:1078px;top:467.5px">4串(电量显示)</div>
<div class="lbl" style="left:1107.5px;top:642px">6串</div>
</body></html>
